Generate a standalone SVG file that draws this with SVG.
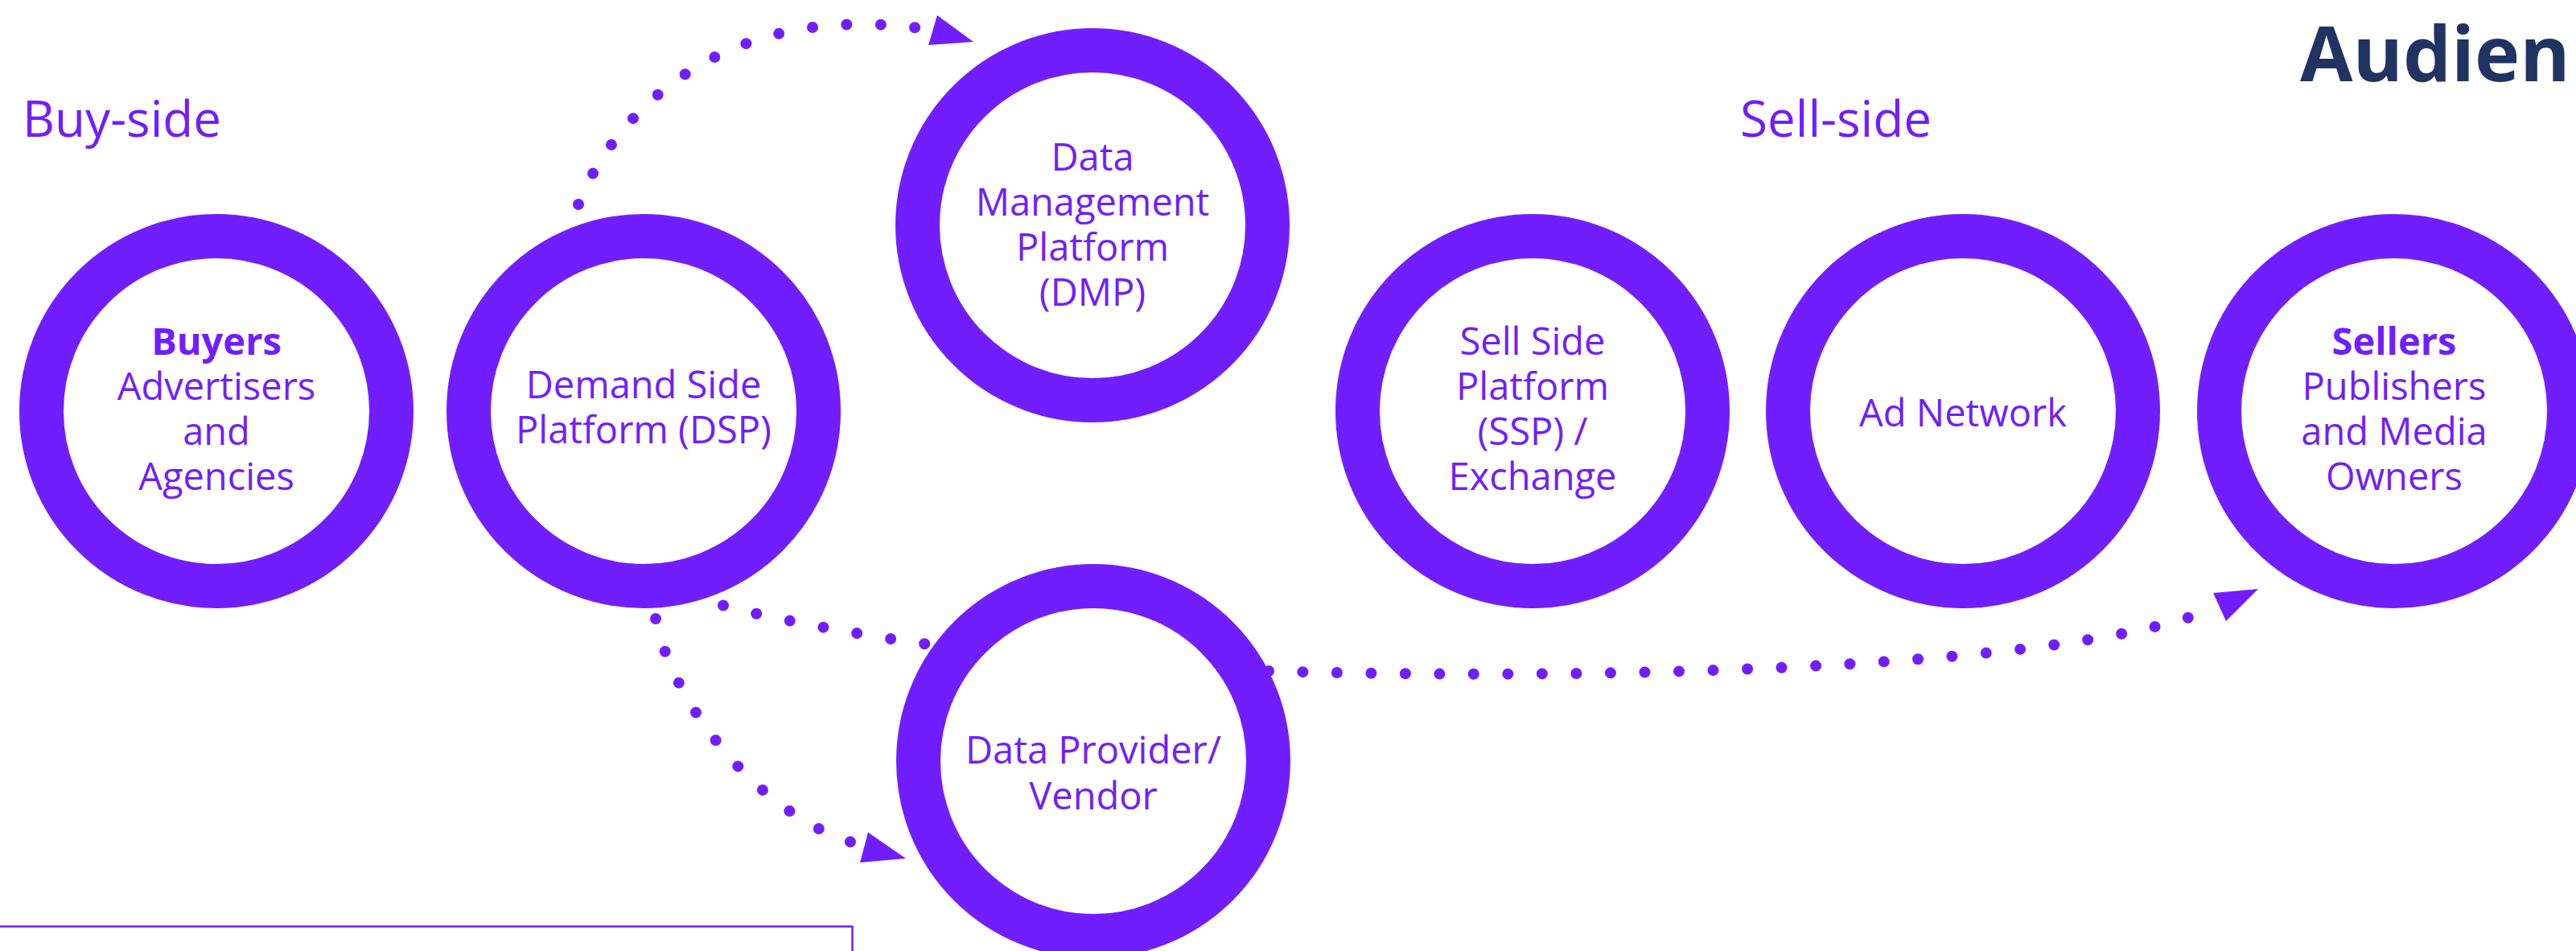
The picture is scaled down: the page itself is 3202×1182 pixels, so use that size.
<svg xmlns="http://www.w3.org/2000/svg" width="3202" height="1182" viewBox="0 0 3202 1182">
<style>
  .ring { fill: #ffffff; stroke: #711EFF; stroke-width: 55; }
  .lbl { font-family: "Open Sans", "Noto Sans", "DejaVu Sans", sans-serif; font-size: 47px; fill: #711EFF; text-anchor: middle; }
  .b { font-weight: bold; }
  .side { font-family: "Open Sans", "Noto Sans", "DejaVu Sans", sans-serif; font-size: 62px; fill: #711EFF; }
  .title { font-family: "Open Sans", "Noto Sans", "DejaVu Sans", sans-serif; font-size: 95px; font-weight: bold; fill: #213361; }
  .dots { fill: none; stroke: #711EFF; stroke-width: 14; stroke-linecap: round; stroke-dasharray: 0 42.5; }
  .arrow { fill: #711EFF; }
  .frame { fill: none; stroke: #711EFF; stroke-width: 2.5; }
</style>
<rect width="3202" height="1182" fill="#ffffff"/>

<text class="side" x="28" y="170">Buy-side</text>
<text class="side" x="2163" y="170">Sell-side</text>
<text class="title" x="2859" y="101">Audien</text>

<g id="connectors">
  <path class="dots" d="M 719 254 C 755 160, 880 0, 1143 35"/>
  <polygon class="arrow" points="1165,19 1210,52 1154,56"/>
  <path class="dots" d="M 815 769 C 835 872, 940 1010, 1059 1047"/>
  <polygon class="arrow" points="1079,1034.5 1126,1067 1069,1072"/>
  <path class="dots" d="M 899 752.5 C 960 769, 1060 788, 1175 804"/>
  <path class="dots" d="M 1577 834 C 1950 845, 2550 835, 2746 758.6"/>
  <polygon class="arrow" points="2751,737 2807,732 2767,772"/>
</g>

<g id="node-buyers">
  <circle class="ring" cx="269" cy="511" r="217.5"/>
  <text class="lbl b" x="269" y="441">Buyers</text>
  <text class="lbl" x="269" y="497">Advertisers</text>
  <text class="lbl" x="269" y="553">and</text>
  <text class="lbl" x="269" y="609">Agencies</text>
</g>
<g id="node-dsp">
  <circle class="ring" cx="800" cy="511" r="217.5"/>
  <text class="lbl" x="800" y="495">Demand Side</text>
  <text class="lbl" x="800" y="551">Platform (DSP)</text>
</g>
<g id="node-dmp">
  <circle class="ring" cx="1358" cy="280" r="217.5"/>
  <text class="lbl" x="1358" y="212">Data</text>
  <text class="lbl" x="1358" y="268">Management</text>
  <text class="lbl" x="1358" y="324">Platform</text>
  <text class="lbl" x="1358" y="380">(DMP)</text>
</g>
<g id="node-provider">
  <circle class="ring" cx="1359" cy="946" r="217.5"/>
  <text class="lbl" x="1359" y="949">Data Provider/</text>
  <text class="lbl" x="1359" y="1006">Vendor</text>
</g>
<g id="node-ssp">
  <circle class="ring" cx="1905" cy="511" r="217.5"/>
  <text class="lbl" x="1905" y="441">Sell Side</text>
  <text class="lbl" x="1905" y="497">Platform</text>
  <text class="lbl" x="1905" y="553">(SSP) /</text>
  <text class="lbl" x="1905" y="609">Exchange</text>
</g>
<g id="node-adnetwork">
  <circle class="ring" cx="2440" cy="511" r="217.5"/>
  <text class="lbl" x="2440" y="530">Ad Network</text>
</g>
<g id="node-sellers">
  <circle class="ring" cx="2976" cy="511" r="217.5"/>
  <text class="lbl b" x="2976" y="441">Sellers</text>
  <text class="lbl" x="2976" y="497">Publishers</text>
  <text class="lbl" x="2976" y="553">and Media</text>
  <text class="lbl" x="2976" y="609">Owners</text>
</g>

<rect class="frame" x="-10" y="1151.5" width="1069.5" height="100"/>
</svg>
